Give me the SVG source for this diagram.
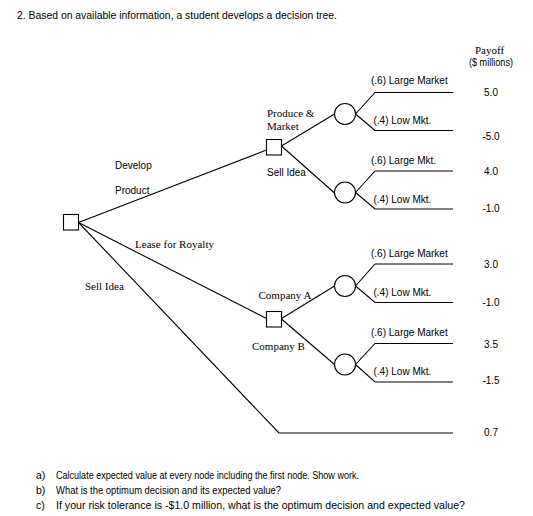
<svg xmlns="http://www.w3.org/2000/svg" width="533" height="516" viewBox="0 0 533 516">
<style>
.s{font-family:"Liberation Sans",Arial,sans-serif;font-size:10px;fill:#000}
.t{font-family:"Liberation Serif","Times New Roman",serif;font-size:11px;fill:#000}
.q{font-family:"Liberation Sans",Arial,sans-serif;font-size:10.5px;fill:#000}
.v{font-family:"Liberation Sans",Arial,sans-serif;font-size:10px;fill:#000;text-anchor:middle}
.ln{fill:none;stroke:#000;stroke-width:1.1}
.dec{fill:#fff;stroke:#000;stroke-width:1.1}
.ch{fill:#fff;stroke:#000;stroke-width:1.1}
</style>
<rect width="533" height="516" fill="#fff"/>
<text class="q" x="17" y="19" textLength="320" lengthAdjust="spacingAndGlyphs">2. Based on available information, a student develops a decision tree.</text>
<text class="t" x="489.5" y="54" text-anchor="middle">Payoff</text>
<text class="s" x="491" y="66" text-anchor="middle" textLength="44" lengthAdjust="spacingAndGlyphs">($ millions)</text>

<g id="connectors">
<polyline class="ln" points="78.5,222.5 266.5,150"/>
<polyline class="ln" points="78.5,222.5 266.5,318.5"/>
<polyline class="ln" points="78.5,222.5 279,433 453,433"/>
<polyline class="ln" points="281.5,146 334.5,114"/>
<polyline class="ln" points="281.5,146 334.5,193"/>
<polyline class="ln" points="281.5,318.5 334.5,286"/>
<polyline class="ln" points="281.5,319 334.5,364.5"/>
<polyline class="ln" points="355.5,114 375,92.5 453,92.5"/>
<polyline class="ln" points="355.5,114 375,130.5 453,130.5"/>
<polyline class="ln" points="355.5,192.5 375,171 453,171"/>
<polyline class="ln" points="355.5,192.5 375,209 453,209"/>
<polyline class="ln" points="355.5,286 375,264 453,264"/>
<polyline class="ln" points="355.5,286 375,302.5 453,302.5"/>
<polyline class="ln" points="355.5,364.5 375,343.5 453,343.5"/>
<polyline class="ln" points="355.5,364.5 375,382 453,382"/>
</g>

<g id="root"><rect class="dec" x="63.5" y="214.5" width="15" height="15.5"/></g>
<g id="develop"><rect class="dec" x="266.5" y="139.5" width="15" height="15.5"/></g>
<g id="lease"><rect class="dec" x="266.5" y="311.5" width="15" height="15.5"/></g>
<g id="chance-produce"><circle class="ch" cx="345" cy="114" r="10.5"/></g>
<g id="chance-sell"><circle class="ch" cx="345" cy="192.5" r="10.5"/></g>
<g id="chance-a"><circle class="ch" cx="345" cy="286" r="10.5"/></g>
<g id="chance-b"><circle class="ch" cx="345" cy="364.5" r="10.5"/></g>

<g id="labels">
<text class="s" x="115" y="169">Develop</text>
<text class="s" x="115" y="193.5">Product</text>
<text class="t" x="135" y="248" textLength="79" lengthAdjust="spacingAndGlyphs">Lease for Royalty</text>
<text class="t" x="85" y="290">Sell Idea</text>
<text class="t" x="267" y="117">Produce &amp;</text>
<text class="t" x="267" y="130">Market</text>
<text class="s" x="267" y="176">Sell Idea</text>
<text class="t" x="258.5" y="299">Company A</text>
<text class="t" x="252" y="349.5">Company B</text>
<text class="s" x="371" y="84">(.6) Large Market</text>
<text class="s" x="373.5" y="123.5">(.4) Low Mkt.</text>
<text class="s" x="371" y="164">(.6) Large Mkt.</text>
<text class="s" x="373.5" y="203">(.4) Low Mkt.</text>
<text class="s" x="371" y="256.5">(.6) Large Market</text>
<text class="s" x="373.5" y="296">(.4) Low Mkt.</text>
<text class="s" x="371" y="336">(.6) Large Market</text>
<text class="s" x="373.5" y="374.5">(.4) Low Mkt.</text>
</g>

<g id="payoffs">
<text class="v" x="491" y="96">5.0</text>
<text class="v" x="491" y="139.5">-5.0</text>
<text class="v" x="491" y="175">4.0</text>
<text class="v" x="491" y="211.5">-1.0</text>
<text class="v" x="491" y="267.5">3.0</text>
<text class="v" x="491" y="306">-1.0</text>
<text class="v" x="491" y="347.5">3.5</text>
<text class="v" x="491" y="383.5">-1.5</text>
<text class="v" x="491" y="436">0.7</text>
</g>

<g id="questions">
<text class="q" x="36" y="479">a)</text>
<text class="q" x="56" y="479" textLength="303" lengthAdjust="spacingAndGlyphs">Calculate expected value at every node including the first node. Show work.</text>
<text class="q" x="36" y="494">b)</text>
<text class="q" x="56" y="494" textLength="225" lengthAdjust="spacingAndGlyphs">What is the optimum decision and its expected value?</text>
<text class="q" x="36" y="508.5">c)</text>
<text class="q" x="56" y="508.5" textLength="409" lengthAdjust="spacingAndGlyphs">If your risk tolerance is -$1.0 million, what is the optimum decision and expected value?</text>
</g>
</svg>
